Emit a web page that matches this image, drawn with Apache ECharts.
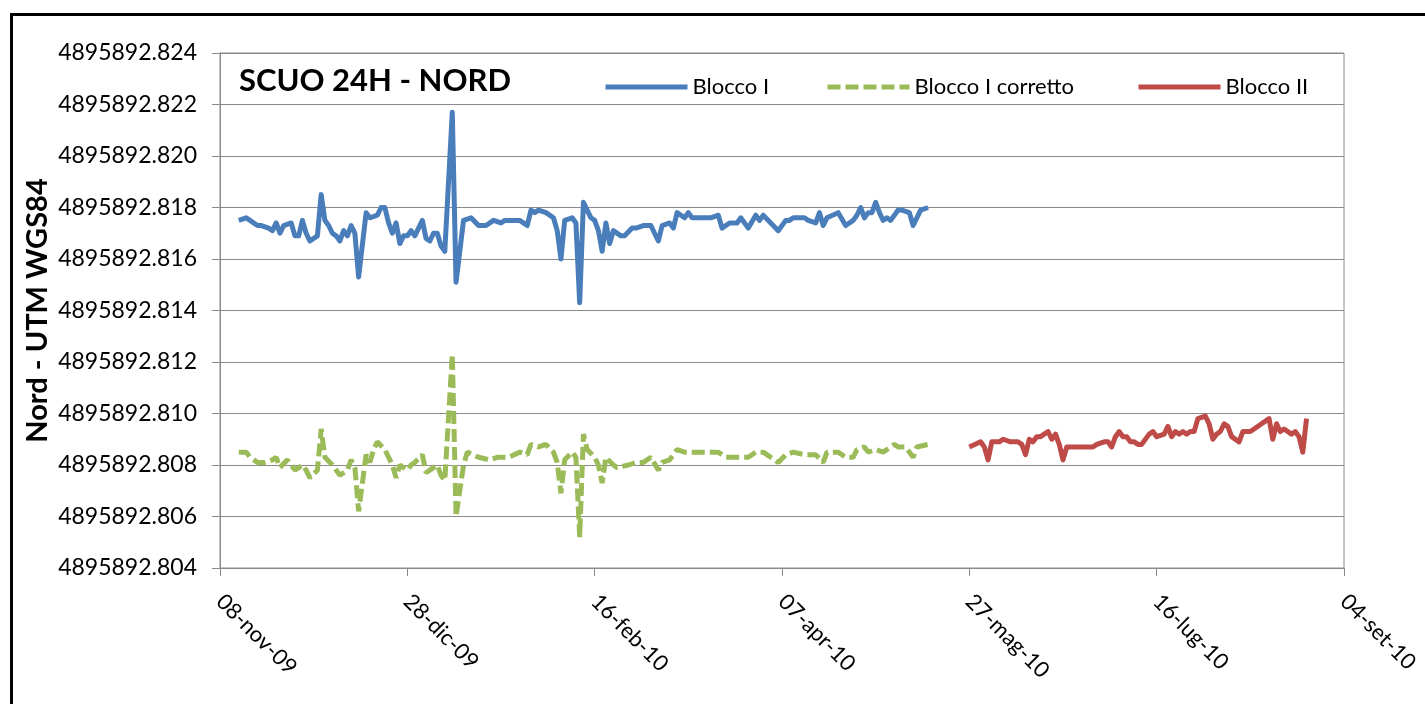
<!DOCTYPE html>
<html>
<head>
<meta charset="utf-8">
<title>SCUO 24H - NORD</title>
<script src="https://cdn.jsdelivr.net/npm/echarts@6/dist/echarts.min.js"></script>
<style>
  html, body { margin: 0; padding: 0; background: #fff; }
  #chart { width: 1425px; height: 704px; }
</style>
</head>
<body>
<div id="chart"></div>
<script>
// Giorno 0 dell'asse dei tempi
const START_DATE = Date.UTC(2009, 10, 8);
const MESI = ['gen', 'feb', 'mar', 'apr', 'mag', 'giu', 'lug', 'ago', 'set', 'ott', 'nov', 'dic'];

// Tick dell'asse Y (coordinata Nord, m)
const Y_MIN = 4895892.804;
const Y_MAX = 4895892.824;
const Y_STEP = 0.002;
// Asse X in giorni dal 08-nov-09
const X_MIN = 0;
const X_MAX = 300;
const X_STEP = 50;

// Blocco I: giorni e Nord (m)
const bloccoIGiorni = [5, 7, 8, 10, 11, 13, 14, 15, 16, 17, 19, 20, 21, 22, 23, 24, 26, 27, 28, 29,
  30, 31, 32, 33, 34, 35, 36, 37, 39, 40, 42, 43, 44, 45, 46, 47, 48, 49, 50, 51,
  52, 53, 54, 55, 56, 57, 58, 59, 60, 62, 63, 65, 67, 69, 71, 73, 75, 76, 78, 80,
  82, 83, 84, 85, 87, 89, 90, 91, 92, 94, 95, 96, 97, 98, 99, 100, 101, 102, 103, 104,
  105, 107, 108, 110, 111, 113, 115, 117, 118, 120, 121, 122, 124, 125, 126, 129, 131, 133, 134, 136,
  138, 139, 141, 143, 144, 145, 147, 149, 151, 152, 153, 156, 157, 159, 160, 161, 162, 165, 167, 169,
  170, 171, 172, 173, 174, 175, 176, 177, 178, 179, 181, 182, 184, 185, 187, 189];
const bloccoINord = [4895892.8175, 4895892.8176, 4895892.8175, 4895892.8173, 4895892.8173, 4895892.8172, 4895892.8171, 4895892.8174, 4895892.8170, 4895892.8173,
  4895892.8174, 4895892.8169, 4895892.8169, 4895892.8175, 4895892.8170, 4895892.8167, 4895892.8169, 4895892.8185, 4895892.8175, 4895892.8173,
  4895892.8170, 4895892.8169, 4895892.8167, 4895892.8171, 4895892.8169, 4895892.8173, 4895892.8170, 4895892.8153, 4895892.8178, 4895892.8176,
  4895892.8177, 4895892.8180, 4895892.8180, 4895892.8174, 4895892.8170, 4895892.8174, 4895892.8166, 4895892.8169, 4895892.8169, 4895892.8171,
  4895892.8169, 4895892.8172, 4895892.8175, 4895892.8168, 4895892.8167, 4895892.8170, 4895892.8170, 4895892.8165, 4895892.8163, 4895892.8217,
  4895892.8151, 4895892.8175, 4895892.8176, 4895892.8173, 4895892.8173, 4895892.8175, 4895892.8174, 4895892.8175, 4895892.8175, 4895892.8175,
  4895892.8173, 4895892.8179, 4895892.8178, 4895892.8179, 4895892.8178, 4895892.8176, 4895892.8171, 4895892.8160, 4895892.8175, 4895892.8176,
  4895892.8174, 4895892.8143, 4895892.8182, 4895892.8179, 4895892.8176, 4895892.8175, 4895892.8171, 4895892.8163, 4895892.8174, 4895892.8166,
  4895892.8171, 4895892.8169, 4895892.8169, 4895892.8172, 4895892.8172, 4895892.8173, 4895892.8173, 4895892.8167, 4895892.8173, 4895892.8174,
  4895892.8172, 4895892.8178, 4895892.8176, 4895892.8178, 4895892.8176, 4895892.8176, 4895892.8176, 4895892.8177, 4895892.8172, 4895892.8174,
  4895892.8174, 4895892.8176, 4895892.8172, 4895892.8177, 4895892.8175, 4895892.8177, 4895892.8174, 4895892.8171, 4895892.8175, 4895892.8175,
  4895892.8176, 4895892.8176, 4895892.8175, 4895892.8174, 4895892.8178, 4895892.8173, 4895892.8176, 4895892.8178, 4895892.8173, 4895892.8175,
  4895892.8177, 4895892.8180, 4895892.8176, 4895892.8178, 4895892.8178, 4895892.8182, 4895892.8178, 4895892.8175, 4895892.8176, 4895892.8175,
  4895892.8179, 4895892.8179, 4895892.8178, 4895892.8173, 4895892.8179, 4895892.8180];

// Blocco I corretto: giorni e Nord (m)
const bloccoICorrettoGiorni = [5, 7, 8, 10, 12, 14, 15, 16, 18, 19, 20, 22, 23, 24, 26, 27, 28, 30, 32, 34,
  35, 36, 37, 39, 40, 41, 42, 44, 45, 46, 47, 48, 50, 51, 52, 54, 55, 56, 58, 59,
  60, 62, 63, 65, 66, 69, 72, 74, 77, 80, 82, 83, 85, 87, 89, 90, 91, 92, 94, 95,
  96, 97, 98, 100, 101, 102, 103, 105, 106, 109, 111, 113, 115, 117, 118, 120, 122, 124, 127, 129,
  133, 135, 138, 141, 143, 145, 147, 149, 151, 153, 156, 159, 161, 162, 165, 167, 169, 170, 172, 173,
  175, 177, 180, 181, 183, 185, 186, 189];
const bloccoICorrettoNord = [4895892.8085, 4895892.8085, 4895892.8083, 4895892.8081, 4895892.8081, 4895892.8082, 4895892.8083, 4895892.8079, 4895892.8082, 4895892.8080,
  4895892.8078, 4895892.8080, 4895892.8078, 4895892.8075, 4895892.8078, 4895892.8094, 4895892.8083, 4895892.8080, 4895892.8076, 4895892.8078,
  4895892.8082, 4895892.8079, 4895892.8062, 4895892.8084, 4895892.8081, 4895892.8086, 4895892.8089, 4895892.8086, 4895892.8083, 4895892.8080,
  4895892.8075, 4895892.8080, 4895892.8078, 4895892.8080, 4895892.8081, 4895892.8084, 4895892.8077, 4895892.8078, 4895892.8080, 4895892.8076,
  4895892.8074, 4895892.8123, 4895892.8060, 4895892.8080, 4895892.8085, 4895892.8083, 4895892.8082, 4895892.8083, 4895892.8083, 4895892.8085,
  4895892.8084, 4895892.8088, 4895892.8087, 4895892.8088, 4895892.8085, 4895892.8081, 4895892.8069, 4895892.8082, 4895892.8085, 4895892.8083,
  4895892.8052, 4895892.8092, 4895892.8086, 4895892.8083, 4895892.8080, 4895892.8073, 4895892.8083, 4895892.8080, 4895892.8079, 4895892.8080,
  4895892.8081, 4895892.8081, 4895892.8083, 4895892.8078, 4895892.8081, 4895892.8082, 4895892.8086, 4895892.8085, 4895892.8085, 4895892.8085,
  4895892.8085, 4895892.8083, 4895892.8083, 4895892.8083, 4895892.8085, 4895892.8085, 4895892.8083, 4895892.8081, 4895892.8084, 4895892.8085,
  4895892.8084, 4895892.8084, 4895892.8081, 4895892.8085, 4895892.8085, 4895892.8083, 4895892.8083, 4895892.8086, 4895892.8087, 4895892.8085,
  4895892.8086, 4895892.8085, 4895892.8088, 4895892.8087, 4895892.8087, 4895892.8083, 4895892.8087, 4895892.8088];

// Blocco II: giorni e Nord (m)
const bloccoIIGiorni = [200, 203, 204, 205, 206, 208, 209, 211, 213, 214, 215, 216, 217, 218, 219, 220, 221, 222, 223, 224,
  225, 226, 227, 229, 231, 233, 234, 236, 237, 238, 239, 240, 241, 242, 243, 244, 245, 246, 248, 249,
  250, 252, 253, 254, 255, 256, 257, 258, 259, 260, 261, 263, 264, 265, 266, 267, 268, 269, 270, 272,
  273, 275, 276, 278, 280, 281, 282, 283, 284, 286, 287, 288, 289, 290];
const bloccoIINord = [4895892.8087, 4895892.8089, 4895892.8087, 4895892.8082, 4895892.8089, 4895892.8089, 4895892.8090, 4895892.8089, 4895892.8089, 4895892.8088,
  4895892.8084, 4895892.8090, 4895892.8089, 4895892.8091, 4895892.8091, 4895892.8092, 4895892.8093, 4895892.8090, 4895892.8092, 4895892.8088,
  4895892.8082, 4895892.8087, 4895892.8087, 4895892.8087, 4895892.8087, 4895892.8087, 4895892.8088, 4895892.8089, 4895892.8089, 4895892.8087,
  4895892.8091, 4895892.8093, 4895892.8091, 4895892.8091, 4895892.8089, 4895892.8089, 4895892.8088, 4895892.8088, 4895892.8092, 4895892.8093,
  4895892.8091, 4895892.8092, 4895892.8095, 4895892.8091, 4895892.8093, 4895892.8092, 4895892.8093, 4895892.8092, 4895892.8093, 4895892.8093,
  4895892.8098, 4895892.8099, 4895892.8096, 4895892.8090, 4895892.8092, 4895892.8093, 4895892.8096, 4895892.8095, 4895892.8091, 4895892.8089,
  4895892.8093, 4895892.8093, 4895892.8094, 4895892.8096, 4895892.8098, 4895892.8090, 4895892.8096, 4895892.8093, 4895892.8094, 4895892.8092,
  4895892.8093, 4895892.8091, 4895892.8085, 4895892.8098];

const zip = (xs, ys) => xs.map((x, i) => [x, ys[i]]);

function etichettaData(giorno) {
  const d = new Date(START_DATE + giorno * 86400000);
  const dd = String(d.getUTCDate()).padStart(2, '0');
  const yy = String(d.getUTCFullYear() % 100).padStart(2, '0');
  return dd + '-' + MESI[d.getUTCMonth()] + '-' + yy;
}

const FONT = 'Lato, "Open Sans", sans-serif';
const legendText = { fontFamily: FONT, fontSize: 22, color: '#000' };
// Simbolo nascosto, solo tratto spesso nella legenda
const legendBase = {
  top: 71, itemWidth: 82, itemHeight: 18, itemGap: 6,
  textStyle: legendText,
  itemStyle: { opacity: 0 },
  lineStyle: { width: 5 }
};

const chart = echarts.init(document.getElementById('chart'), null, { renderer: 'canvas' });

chart.setOption({
  animation: false,
  backgroundColor: '#fff',
  graphic: [{
    type: 'rect',
    left: 9, top: 12,
    shape: { width: 1500, height: 800 },
    style: { fill: 'none', stroke: '#000', lineWidth: 3 },
    silent: true
  }],
  title: {
    text: 'SCUO 24H - NORD',
    left: 234, top: 60,
    textStyle: { fontFamily: FONT, fontSize: 31, fontWeight: 'bold', color: '#000' }
  },
  legend: [
    Object.assign({ data: ['Blocco I'], left: 598 }, legendBase),
    Object.assign({ data: ['Blocco I corretto'], left: 820 }, legendBase),
    Object.assign({ data: ['Blocco II'], left: 1131 }, legendBase)
  ],
  grid: {
    left: 220, right: 81, top: 53, bottom: 136,
    show: true, borderColor: '#8a8a8a', borderWidth: 1
  },
  xAxis: {
    type: 'value',
    min: X_MIN, max: X_MAX, interval: X_STEP,
    axisLine: { show: true, lineStyle: { color: '#8a8a8a', width: 1 } },
    axisTick: { show: true, length: 8, inside: false, lineStyle: { color: '#8a8a8a' } },
    splitLine: { show: false },
    axisLabel: {
      rotate: -45,
      margin: 30,
      fontFamily: FONT, fontSize: 22, color: '#000',
      formatter: v => etichettaData(v)
    }
  },
  yAxis: {
    type: 'value',
    min: Y_MIN, max: Y_MAX, interval: Y_STEP,
    name: 'Nord - UTM WGS84',
    nameLocation: 'middle',
    nameGap: 168,
    nameMoveOverlap: false,
    nameRotate: 90,
    nameTextStyle: { fontFamily: FONT, fontSize: 29, fontWeight: 'bold', color: '#000' },
    axisLine: { show: true, lineStyle: { color: '#8a8a8a', width: 1 } },
    axisTick: { show: true, length: 8, inside: false, lineStyle: { color: '#8a8a8a' } },
    splitLine: { show: true, lineStyle: { color: '#8a8a8a', width: 1 } },
    axisLabel: {
      margin: 23,
      fontFamily: FONT, fontSize: 23, color: '#000',
      formatter: v => v.toFixed(3)
    }
  },
  series: [
    {
      name: 'Blocco I', type: 'line',
      data: zip(bloccoIGiorni, bloccoINord),
      showSymbol: false, symbol: 'none',
      lineStyle: { color: '#4a7ebb', width: 5, join: 'round' },
      itemStyle: { color: '#4a7ebb' }
    },
    {
      name: 'Blocco I corretto', type: 'line',
      data: zip(bloccoICorrettoGiorni, bloccoICorrettoNord),
      showSymbol: false, symbol: 'none',
      lineStyle: { color: '#9bbb59', width: 5, type: [13, 5] },
      itemStyle: { color: '#9bbb59' }
    },
    {
      name: 'Blocco II', type: 'line',
      data: zip(bloccoIIGiorni, bloccoIINord),
      showSymbol: false, symbol: 'none',
      lineStyle: { color: '#be4b48', width: 5, join: 'round' },
      itemStyle: { color: '#be4b48' }
    }
  ]
});
</script>
</body>
</html>
